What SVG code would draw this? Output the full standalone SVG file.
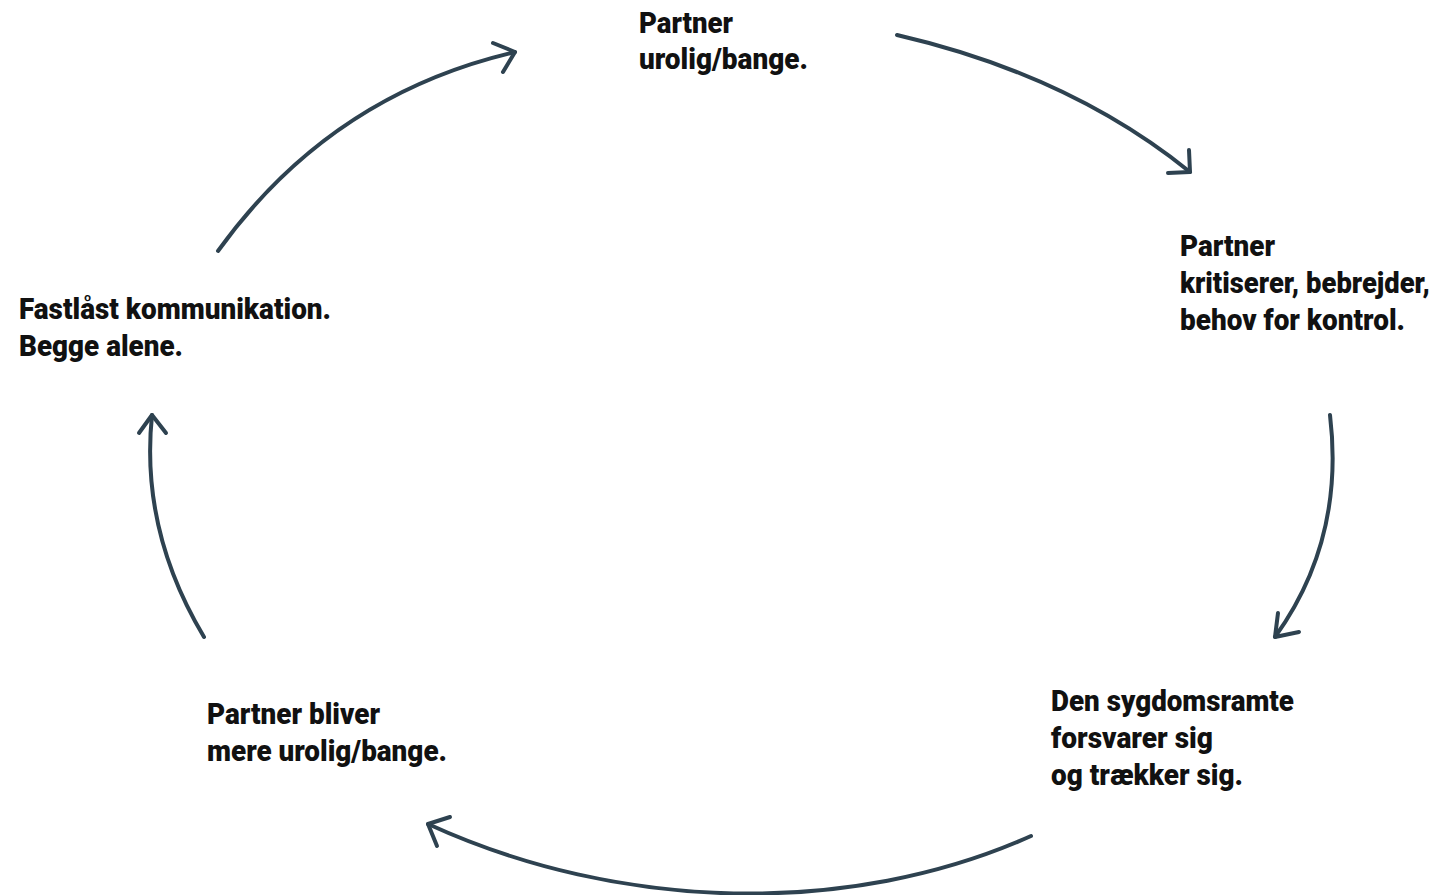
<svg xmlns="http://www.w3.org/2000/svg" width="1443" height="895" viewBox="0 0 1443 895">
<style>
.t{font-family:"Roboto","Liberation Sans",sans-serif;font-weight:900;font-size:30px;fill:#111;}
.c{fill:none;stroke:#2e4250;stroke-width:4;stroke-linecap:round;stroke-linejoin:round;}
</style>
<rect width="1443" height="895" fill="#fff"/>
<g id="connectors">
<path class="c" d="M218,251 Q330,95 515,52"/>
<polyline class="c" points="493,43 515,52 503,72"/>
<path class="c" d="M897,35 Q1070,75 1190,172"/>
<polyline class="c" points="1168,173 1190,172 1189,150"/>
<path class="c" d="M1330,415 Q1345,540 1275,637"/>
<polyline class="c" points="1278,613 1275,637 1299,632"/>
<path class="c" d="M1031,836 C850,917 620,912 428,824"/>
<polyline class="c" points="450,817 428,824 437,846"/>
<path class="c" d="M204,637 Q140,530 152,415"/>
<polyline class="c" points="139,433 152,415 166,433"/>
</g>
<g id="n1"><text class="t" x="639" y="33" textLength="94" lengthAdjust="spacingAndGlyphs">Partner</text><text class="t" x="639" y="69" textLength="169" lengthAdjust="spacingAndGlyphs">urolig/bange.</text></g>
<g id="n2"><text class="t" x="1180" y="256" textLength="95" lengthAdjust="spacingAndGlyphs">Partner</text><text class="t" x="1180" y="293" textLength="250" lengthAdjust="spacingAndGlyphs">kritiserer, bebrejder,</text><text class="t" x="1180" y="330" textLength="225" lengthAdjust="spacingAndGlyphs">behov for kontrol.</text></g>
<g id="n3"><text class="t" x="1051" y="711" textLength="243" lengthAdjust="spacingAndGlyphs">Den sygdomsramte</text><text class="t" x="1051" y="748" textLength="162" lengthAdjust="spacingAndGlyphs">forsvarer sig</text><text class="t" x="1051" y="785" textLength="192" lengthAdjust="spacingAndGlyphs">og trækker sig.</text></g>
<g id="n4"><text class="t" x="207" y="724" textLength="173" lengthAdjust="spacingAndGlyphs">Partner bliver</text><text class="t" x="207" y="761" textLength="240" lengthAdjust="spacingAndGlyphs">mere urolig/bange.</text></g>
<g id="n5"><text class="t" x="19" y="319" textLength="312" lengthAdjust="spacingAndGlyphs">Fastlåst kommunikation.</text><text class="t" x="19" y="356" textLength="164" lengthAdjust="spacingAndGlyphs">Begge alene.</text></g>
</svg>
